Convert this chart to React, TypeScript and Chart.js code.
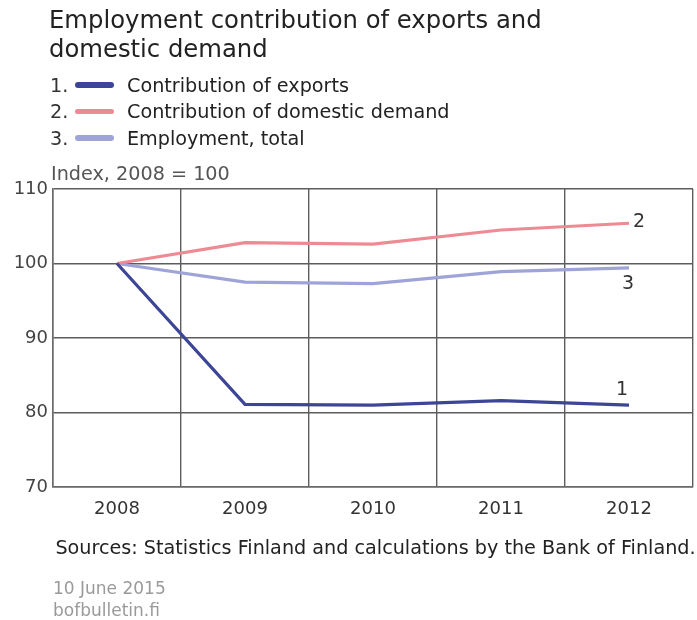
import React, { useEffect, useRef } from "react";
import { Chart, registerables } from "chart.js";

Chart.register(...registerables);

const years = ["2008", "2009", "2010", "2011", "2012"];
const exportsContribution = [100, 81.1, 81.0, 81.6, 81.0];
const domesticContribution = [100, 102.8, 102.6, 104.5, 105.4];
const employmentTotal = [100, 97.5, 97.3, 98.9, 99.4];
const seriesNames = [
  "Contribution of exports",
  "Contribution of domestic demand",
  "Employment, total",
];
const seriesColors = ["#3d4597", "#ee8a93", "#9fa4d8"];
const endLabels = ["1", "2", "3"];
const yTicks = [70, 80, 90, 100, 110];

const FONT = "'DejaVu Sans', sans-serif";

const endLabelPlugin = {
  id: "endLabels",
  afterDatasetsDraw(chart: any) {
    const ctx = chart.ctx;
    ctx.save();
    ctx.font = `19px ${FONT}`;
    ctx.fillStyle = "#333";
    ctx.textBaseline = "middle";
    const offsets = [
      { dx: -7, dy: -15, align: "center" },
      { dx: 4, dy: -1, align: "left" },
      { dx: -1, dy: 16, align: "center" },
    ];
    chart.data.datasets.forEach((_: any, i: number) => {
      const meta = chart.getDatasetMeta(i);
      const pt = meta.data[meta.data.length - 1];
      if (!pt) return;
      const o = offsets[i];
      ctx.textAlign = o.align;
      ctx.fillText(endLabels[i], pt.x + o.dx, pt.y + o.dy);
    });
    ctx.restore();
  },
};

export default function App() {
  const ref = useRef<HTMLCanvasElement | null>(null);

  useEffect(() => {
    if (!ref.current) return;
    const chart = new Chart(ref.current, {
      type: "line",
      data: {
        labels: years,
        datasets: [
          { label: seriesNames[0], data: exportsContribution, borderColor: seriesColors[0] },
          { label: seriesNames[1], data: domesticContribution, borderColor: seriesColors[1] },
          { label: seriesNames[2], data: employmentTotal, borderColor: seriesColors[2] },
        ].map((d) => ({
          ...d,
          borderWidth: 3.2,
          pointRadius: 0,
          tension: 0,
          fill: false,
        })),
      },
      options: {
        responsive: false,
        animation: false,
        devicePixelRatio: 1,
        layout: { padding: { left: 9, right: 4, top: 189, bottom: 93 } },
        plugins: {
          legend: { display: false },
          title: { display: false },
          tooltip: { enabled: false },
        },
        scales: {
          x: {
            type: "category",
            offset: true,
            grid: {
              offset: true,
              color: "#5c5c5c",
              lineWidth: 1.4,
              drawTicks: false,
            },
            border: { color: "#6a6a6a", width: 1.5 },
            ticks: {
              color: "#333",
              font: { family: FONT, size: 18 },
              padding: 12,
              maxRotation: 0,
            },
            afterFit: (s: any) => {
              s.height = 40;
            },
          },
          y: {
            min: 70,
            max: 110,
            afterBuildTicks: (s: any) => {
              s.ticks = yTicks.map((v) => ({ value: v }));
            },
            grid: {
              color: "#5c5c5c",
              lineWidth: 1.4,
              drawTicks: false,
            },
            border: { color: "#6a6a6a", width: 1.5 },
            ticks: {
              color: "#444",
              font: { family: FONT, size: 18 },
              padding: 5,
            },
            afterFit: (s: any) => {
              s.width = 44;
            },
          },
        },
      },
      plugins: [endLabelPlugin],
    });
    return () => chart.destroy();
  }, []);

  const abs = (o: React.CSSProperties): React.CSSProperties => ({
    position: "absolute",
    whiteSpace: "nowrap",
    fontFamily: FONT,
    margin: 0,
    ...o,
  });

  return (
    <div
      style={{
        position: "absolute",
        left: 0,
        top: 0,
        width: 697,
        height: 620,
        background: "#fff",
        overflow: "hidden",
      }}
    >
      <canvas
        ref={ref}
        width={697}
        height={620}
        style={{ position: "absolute", left: 0, top: 0, width: 697, height: 620 }}
      />
      <div style={abs({ left: 49, top: 6, fontSize: 24.3, lineHeight: "28.5px", color: "#222" })}>
        Employment contribution of exports and
        <br />
        domestic demand
      </div>
      {seriesNames.map((name, i) => (
        <div
          key={name}
          style={abs({
            left: 50,
            top: 71.8 + i * 26.5,
            height: 27,
            fontSize: 19.2,
            lineHeight: "27px",
            color: "#333",
          })}
        >
          <span>{i + 1}.</span>
          <span
            style={{
              position: "absolute",
              left: 25,
              top: 10.5,
              width: 38.6,
              height: 5.5,
              borderRadius: 3,
              background: seriesColors[i],
            }}
          />
          <span style={{ position: "absolute", left: 77, top: 0, color: "#222" }}>{name}</span>
        </div>
      ))}
      <div style={abs({ left: 51, top: 159.8, fontSize: 19.2, lineHeight: "27px", color: "#555" })}>
        Index, 2008 = 100
      </div>
      <div style={abs({ left: 55.4, top: 533.5, fontSize: 19.2, lineHeight: "27px", color: "#222" })}>
        Sources: Statistics Finland and calculations by the Bank of Finland.
      </div>
      <div style={abs({ left: 53, top: 577, fontSize: 17, lineHeight: "22px", color: "#9a9a9a" })}>
        10 June 2015
        <br />
        bofbulletin.fi
      </div>
    </div>
  );
}
